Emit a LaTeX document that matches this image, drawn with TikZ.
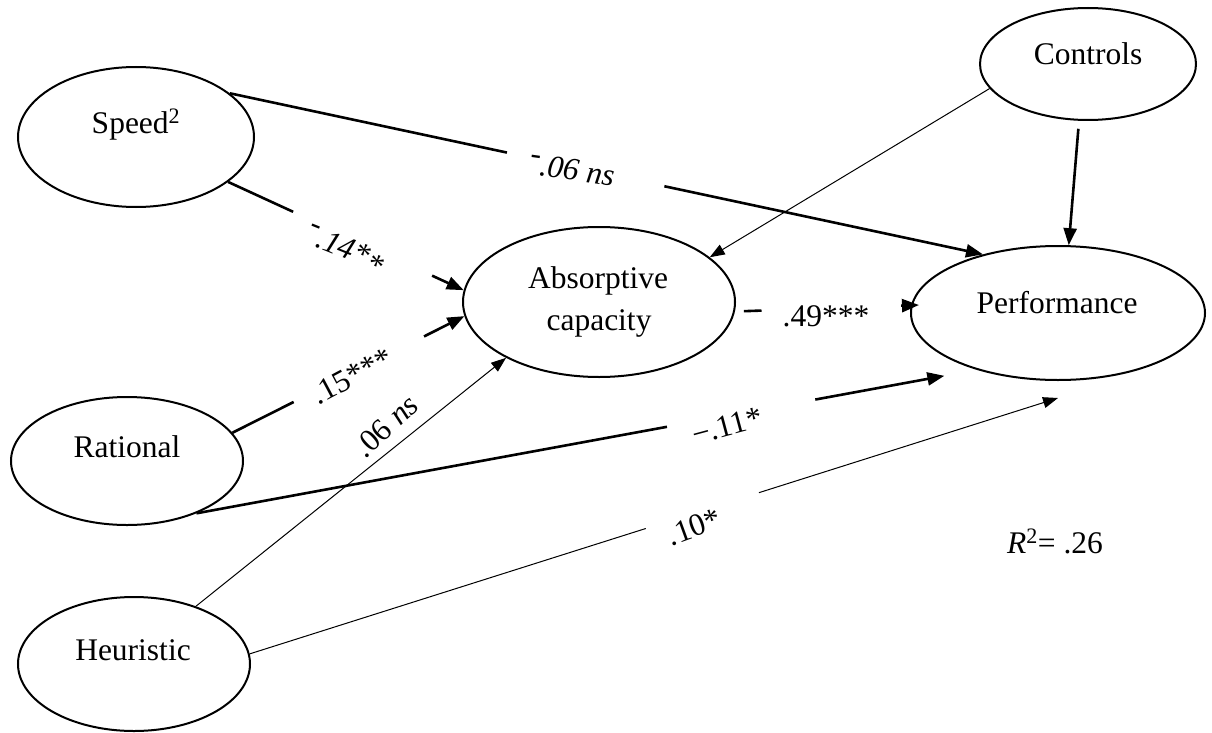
\documentclass[tikz,border=0pt]{standalone}
\usepackage{fontspec}
\setmainfont{Liberation Serif}
\usetikzlibrary{shapes.geometric,arrows.meta,calc}

\begin{document}
\begin{tikzpicture}[x=1pt,y=-1pt,
  latent/.style={ellipse,draw,line width=2pt,inner sep=0pt},
  nodetext/.style={anchor=base,inner sep=0pt,font=\fontsize{31.5}{36}\selectfont},
  coef/.style={inner sep=0pt,font=\fontsize{31.5}{36}\selectfont},
  strong/.style={line width=2.6pt},
  weak/.style={line width=1pt},
  tipS/.style={-{Triangle[length=17pt,width=13pt]}},
  tipW/.style={-{Triangle[length=15pt,width=11pt]}},
]
\useasboundingbox (0,0) rectangle (1212,733);

% latent constructs
\node[latent,minimum width=236pt,minimum height=140pt] (spd) at (136,137) {};
\node[latent,minimum width=232pt,minimum height=128pt] (rat) at (127,461) {};
\node[latent,minimum width=232pt,minimum height=134pt] (heu) at (134,664) {};
\node[latent,minimum width=272pt,minimum height=150pt] (abs) at (599,302) {};
\node[latent,minimum width=294pt,minimum height=134pt] (perf) at (1058,313) {};
\node[latent,minimum width=216pt,minimum height=112pt] (ctl) at (1088,64) {};

% construct names
\node[nodetext] (spdT) at (136,133) {Speed\textsuperscript{2}};
\node[nodetext] (ratT) at (127,457) {Rational};
\node[nodetext] (heuT) at (133,660) {Heuristic};
\node[nodetext] (absT1) at (598,288) {Absorptive};
\node[nodetext] (absT2) at (599,330) {capacity};
\node[nodetext] (perfT) at (1057,313) {Performance};
\node[nodetext] (ctlT) at (1088,65) {Controls};

% Speed^2 -> Performance
\draw[strong] (spd.25) -- ($(spd.25)!0.368!(perf.142)$);
\draw[strong,tipS] ($(spd.25)!0.577!(perf.142)$) -- (perf.142);
% Speed^2 -> Absorptive capacity
\draw[strong] (spd.-26.6) -- ($(spd.-26.6)!0.276!(abs.175.7)$);
\draw[strong,tipS] ($(spd.-26.6)!0.866!(abs.175.7)$) -- (abs.175.7);
% Rational -> Absorptive capacity
\draw[strong] (rat.15.3) -- ($(rat.15.3)!0.264!(abs.186.6)$);
\draw[strong,tipS] ($(rat.15.3)!0.826!(abs.186.6)$) -- (abs.186.6);
% Heuristic -> Absorptive capacity
\draw[weak,tipW] (heu.43.6) -- (abs.211.7);
% Rational -> Performance
\draw[strong] (rat.-37) -- ($(rat.-37)!0.603!(perf.215)$);
\draw[strong,tipS,shorten >=33pt] ($(rat.-37)!0.793!(perf.215)$) -- (perf.215);
% Heuristic -> Performance
\coordinate (perfLow) at ($(perf.south)+(0,17)$);
\draw[weak] (heu.5.4) -- ($(heu.5.4)!0.49!(perfLow)$);
\draw[weak,tipW] ($(heu.5.4)!0.63!(perfLow)$) -- (perfLow);
% Controls -> both outcomes
\draw[weak,tipW] (ctl.194.6) -- (abs.22);
\draw[strong,tipS,shorten <=8pt] (ctl.261) -- (perf.81.9);
% Absorptive capacity -> Performance
\draw[strong,shorten <=9pt] (abs.-4.8) -- ($(abs.-4.8)!0.151!(perf.177.5)$);
\draw[strong,tipS,shorten >=-8pt] ($(abs.-4.8)!0.944!(perf.177.5)$) -- (perf.177.5);

% path coefficients
\node[coef,rotate=-8] (cSP) at (572,170) {\textit{\raisebox{.35em}{-}.06 ns}};
\node[coef,rotate=-22] (cSA) at (345,250) {\textit{\raisebox{.35em}{-}.14*\raisebox{-.15em}{*}}};
\node[coef,rotate=28] (cRA) at (352,376) {.15***};
\node[coef,rotate=43] (cHA) at (386,426) {.06 \textit{ns}};
\node[coef,rotate=15] (cRP) at (727,426) {−.11*};
\node[coef,rotate=20] (cHP) at (694,527) {.10*};
\node[coef,anchor=base] (cAP) at (826,326) {.49***};
\node[coef,anchor=base west] (rsq) at (1007,553) {\textit{R}\textsuperscript{2}= .26};
\end{tikzpicture}
\end{document}
